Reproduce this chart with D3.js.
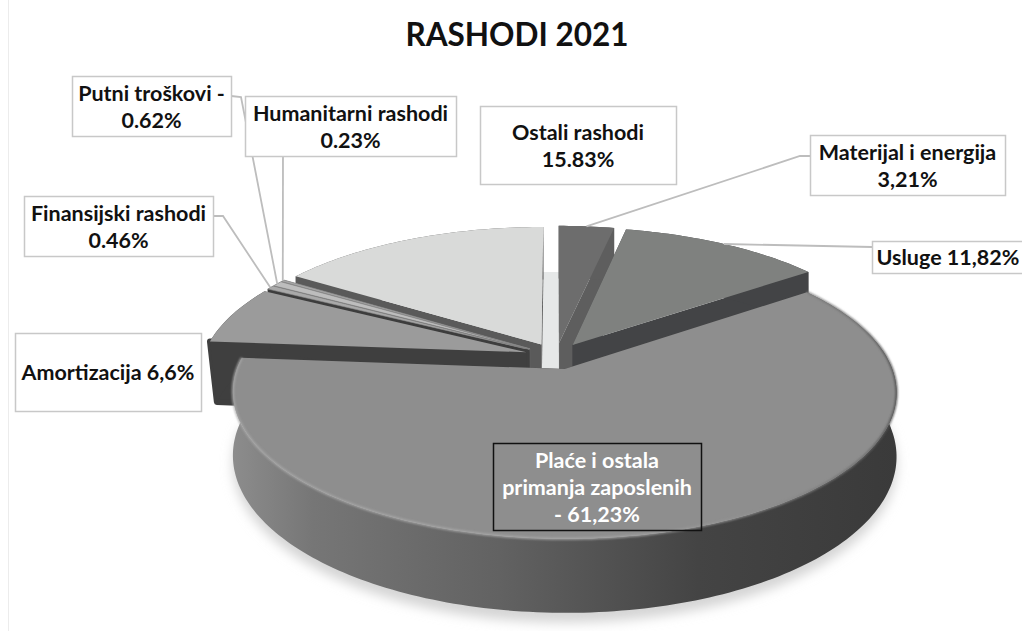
<!DOCTYPE html>
<html>
<head>
<meta charset="utf-8">
<script src="https://cdn.jsdelivr.net/npm/d3@7"></script>
<style>
  html, body { margin: 0; padding: 0; background: #fff; }
  text { font-family: Lato, "Open Sans", sans-serif; font-weight: 700; }
</style>
</head>
<body>
<div id="chart"></div>
<script>
const categories = ["Materijal i energija", "Usluge", "Plaće i ostala primanja zaposlenih", "Amortizacija",
  "Finansijski rashodi", "Putni troškovi", "Humanitarni rashodi", "Ostali rashodi"];
const values = [3.21, 11.82, 61.23, 6.6, 0.46, 0.62, 0.23, 15.83];
const labelLines = [
  ["Materijal i energija", "3,21%"],
  ["Usluge 11,82%"],
  ["Plaće i ostala", "primanja zaposlenih", "- 61,23%"],
  ["Amortizacija 6,6%"],
  ["Finansijski rashodi", "0.46%"],
  ["Putni troškovi -", "0.62%"],
  ["Humanitarni rashodi", "0.23%"],
  ["Ostali rashodi", "15.83%"],
];

const topColors = ["#6d6d6d", "#7f817f", "#8e8e8e", "#9b9b9b", "#a9a9a9", "#bdbdbd", "#a6a6a6", "#d9dad9"];
const wallColors = ["#5e5e5e", "#434446", "#444444", "#3f3f3f", "#3d3d3d", "#555555", "#6b6b6b", "#5a5a5a"];

// label boxes, one per category
const boxes = [
  { x: 810, y: 135, w: 195, h: 60, border: "#c8c8c8", leaderFrom: [810, 156], knee: [800, 156] },
  { x: 872, y: 241, w: 160, h: 32, border: "#c8c8c8", textX: 948, leaderFrom: [872, 247], knee: null },
  { x: 493, y: 443, w: 208, h: 87, border: "#111", color: "#fff", noFill: true },
  { x: 15, y: 333, w: 186, h: 78, border: "#c8c8c8" },
  { x: 24, y: 196, w: 189, h: 60, border: "#c8c8c8", leaderFrom: [213, 216], knee: [223, 216] },
  { x: 72, y: 76, w: 159, h: 60, border: "#c8c8c8", leaderFrom: [231, 96], knee: [241, 97] },
  { x: 245, y: 96, w: 211, h: 60, border: "#c8c8c8", leaderFrom: [283, 156], knee: null },
  { x: 480, y: 106, w: 196, h: 78, border: "#c8c8c8" },
];

const width = 1022;
const height = 631;

// perspective of the pie plane
const cx = 556, cy = 356;
const scaleX = 323, scaleY = 139;
const persp = 0.155;
const explode = 0.096;
const depth = 61.5;
const amortTaper = 0.02; // the dark Amortizacija wall leans inwards

const svg = d3.select("#chart").append("svg")
  .attr("width", width)
  .attr("height", height)
  .style("display", "block");

const defs = svg.append("defs");
defs.append("filter").attr("id", "soft").attr("x", "-10%").attr("y", "-10%").attr("width", "120%").attr("height", "120%")
  .append("feGaussianBlur").attr("stdDeviation", 6);
defs.append("filter").attr("id", "bevel").attr("x", "-5%").attr("y", "-5%").attr("width", "110%").attr("height", "110%")
  .append("feGaussianBlur").attr("stdDeviation", 0.8);

const rimGrad = defs.append("linearGradient").attr("id", "rim")
  .attr("gradientUnits", "userSpaceOnUse")
  .attr("x1", 234).attr("x2", 897).attr("y1", 0).attr("y2", 0);
[[0, "#8c8c8c"], [0.12, "#767676"], [0.4, "#626262"], [0.7, "#444444"], [1, "#3a3a3a"]].forEach((s) => {
  rimGrad.append("stop").attr("offset", s[0]).attr("stop-color", s[1]);
});
const bevelGrad = defs.append("linearGradient").attr("id", "bevelStroke")
  .attr("gradientUnits", "userSpaceOnUse")
  .attr("x1", 234).attr("x2", 897).attr("y1", 0).attr("y2", 0);
[[0, "#a8a8a8"], [0.55, "#a8a8a8"], [0.8, "#8e8e8e"], [0.95, "#6a6a6a"], [1, "#4a4a4a"]].forEach((s) => {
  bevelGrad.append("stop").attr("offset", s[0]).attr("stop-color", s[1]);
});

// Faint plot frame edge
svg.append("line").attr("x1", 8.5).attr("x2", 8.5).attr("y1", 0).attr("y2", height)
  .attr("stroke", "#ececec");

svg.append("text")
  .attr("x", 517).attr("y", 46)
  .attr("text-anchor", "middle")
  .attr("font-size", 31.5)
  .attr("fill", "#111")
  .text("RASHODI 2021");

const arcs = d3.pie().sort(null).startAngle(0).endAngle(2 * Math.PI)(values);

let shiftAngle = 0;
let taper = 0;

// Project a point of the pie plane to the screen
function project(angle, r, shift, z) {
  const planeX = r * Math.sin(angle) + shift * Math.sin(shiftAngle);
  const planeY = -r * Math.cos(angle) - shift * Math.cos(shiftAngle);
  const w = 1 - persp * planeY;
  const shrink = 1 - (taper * z) / depth;
  return [cx + (scaleX * planeX * shrink) / w, cy + (scaleY * planeY) / w + z / w];
}

const line = d3.line();

function arcPoints(a0, a1, z) {
  const n = Math.max(2, Math.ceil((a1 - a0) / 0.02));
  return d3.range(n + 1).map((i) => project(a0 + ((a1 - a0) * i) / n, 1, explode, z));
}

function sliceTop(d, z) {
  return [project(0, 0, explode, z), ...arcPoints(d.startAngle, d.endAngle, z)];
}

function sideFace(angle) {
  return [project(0, 0, explode, 0), project(angle, 1, explode, 0),
    project(angle, 1, explode, depth), project(0, 0, explode, depth)];
}

// Soft shadow on the floor, and the pale patch seen through the top gap
const floor = svg.append("g");
floor.append("path")
  .attr("d", line([project(0, 0, 0, 42), ...d3.range(-25, 26).map((i) => project(i * 0.02, 1, 0, 42))]) + "Z")
  .attr("fill", "#e6e8e8");
shiftAngle = (arcs[2].startAngle + arcs[2].endAngle) / 2;
floor.append("path")
  .attr("d", line(sliceTop(arcs[2], depth + 8)) + "Z")
  .attr("fill", "#d4d4d4")
  .attr("filter", "url(#soft)");

// Back to front
const paintOrder = [7, 0, 1, 6, 5, 4, 3, 2];
paintOrder.forEach((i) => {
  const d = arcs[i];
  shiftAngle = (d.startAngle + d.endAngle) / 2;
  taper = i === 3 ? amortTaper : 0;
  const g = svg.append("g");
  const wall = wallColors[i];

  [d.startAngle, d.endAngle].forEach((a, k) => {
    // only the front wall of Amortizacija has the rounded corners
    const rounded = i === 3 && k === 0 ? 6 : 0;
    g.append("path").attr("d", line(sideFace(a)) + "Z").attr("fill", wall)
      .attr("stroke", rounded ? wall : "none").attr("stroke-width", rounded)
      .attr("stroke-linejoin", "round");
  });

  const outer = [...arcPoints(d.startAngle, d.endAngle, 0), ...arcPoints(d.startAngle, d.endAngle, depth).reverse()];
  g.append("path").attr("d", line(outer) + "Z")
    .attr("fill", i === 2 ? "url(#rim)" : wall);

  g.append("path").attr("d", line(sliceTop(d, 0)) + "Z").attr("fill", topColors[i])
    .attr("stroke", i > 3 && i < 7 ? "#8a8a8a" : "none").attr("stroke-width", 0.6);

  if (i === 2) {
    g.append("path").attr("d", line(arcPoints(d.startAngle, d.endAngle, 0)))
      .attr("fill", "none")
      .attr("stroke", "url(#bevelStroke)")
      .attr("stroke-width", 2)
      .attr("filter", "url(#bevel)");
  }
});

// Leader lines end on the middle of each slice's outer edge
taper = 0;
boxes.forEach((b, i) => {
  if (!b.leaderFrom) return;
  const d = arcs[i];
  shiftAngle = (d.startAngle + d.endAngle) / 2;
  const end = project(shiftAngle, 1, explode, 0);
  const pts = b.knee ? [b.leaderFrom, b.knee, end] : [b.leaderFrom, end];
  svg.append("path").attr("d", line(pts))
    .attr("fill", "none").attr("stroke", "#bdbdbd").attr("stroke-width", 1.8);
});

const labels = svg.selectAll("g.label").data(boxes).enter().append("g").attr("class", "label");
labels.append("rect")
  .attr("x", (b) => b.x + 0.5).attr("y", (b) => b.y + 0.5)
  .attr("width", (b) => b.w).attr("height", (b) => b.h)
  .attr("fill", (b) => (b.noFill ? "none" : "#fff"))
  .attr("stroke", (b) => b.border)
  .attr("stroke-width", 1.5);

labels.each(function (b, i) {
  const lines = labelLines[i];
  const lh = 27;
  const startY = b.y + b.h / 2 - ((lines.length - 1) * lh) / 2 + 8;
  d3.select(this).selectAll("text").data(lines).enter().append("text")
    .attr("x", b.textX || b.x + b.w / 2)
    .attr("y", (t, k) => startY + k * lh)
    .attr("text-anchor", "middle")
    .attr("font-size", 21.5)
    .attr("fill", b.color || "#111")
    .text((t) => t);
});
</script>
</body>
</html>
